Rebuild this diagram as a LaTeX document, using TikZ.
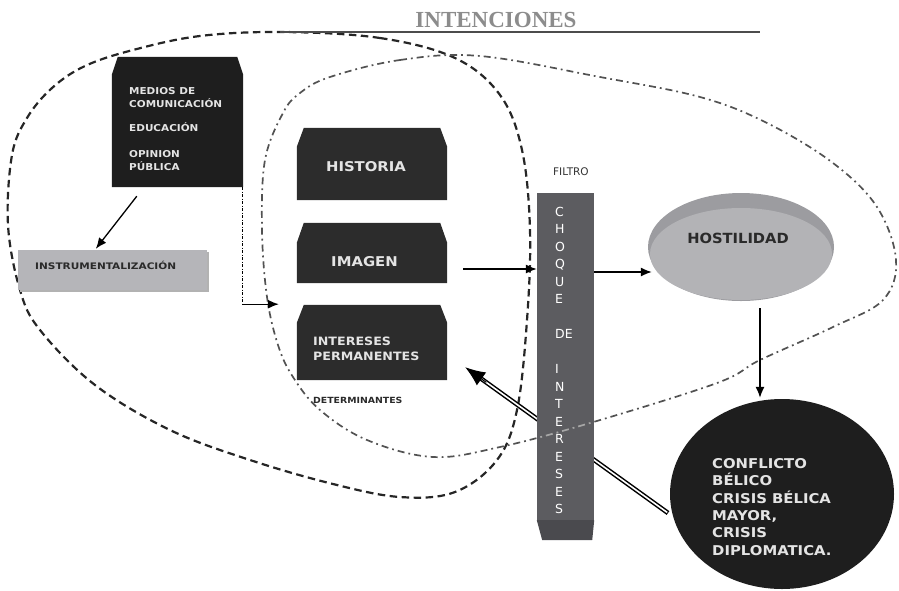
\documentclass[tikz,border=0pt]{standalone}
\usepackage{fontspec}
\setmainfont{DejaVu Sans}
\newfontfamily\bxa[FakeStretch=1.1]{DejaVu Sans}
\newfontfamily\bxb[FakeStretch=1.17]{DejaVu Sans}
\newfontfamily\bxc[FakeStretch=1.05]{DejaVu Sans}
\newfontfamily\ttlf{Liberation Serif}
\usetikzlibrary{arrows.meta,calc,shapes.geometric,shadows}
\definecolor{boxdark}{HTML}{2C2C2C}
\definecolor{mediosc}{HTML}{1E1E1E}
\definecolor{instrc}{HTML}{B5B5B9}
\definecolor{colgray}{HTML}{5C5C60}
\definecolor{colgrayd}{HTML}{4A4A4E}
\definecolor{hostout}{HTML}{9C9CA0}
\definecolor{hostin}{HTML}{B3B3B6}
\definecolor{txtlight}{HTML}{E4E4E4}
\definecolor{txtdark}{HTML}{2A2A2A}
\definecolor{ttlc}{HTML}{8C8C8C}
\newcommand\chamfill[4]{\fill[#2] ([xshift=#3]#1.north west) -- ([xshift=-#3]#1.north east) -- ([yshift=-#4]#1.north east) -- (#1.south east) -- (#1.south west) -- ([yshift=-#4]#1.north west) -- cycle;}
\begin{document}
\begin{tikzpicture}[x=1pt,y=-1pt,
  arr/.style={line width=1.3pt, -{Latex[length=11pt,width=9pt]}},
  dashloop/.style={line width=2.2pt, color=black!85, dash pattern=on 7.5pt off 4.5pt},
  dotloop/.style={line width=1.7pt, color=black!68, dash pattern=on 7pt off 4pt on 1.8pt off 4pt},
  dotline/.style={line width=1.3pt, dash pattern=on 3pt off 1.5pt on 1pt off 1.5pt},
  boxn/.style={rectangle, inner sep=0pt},
  lighttxt/.style={inner sep=0pt, text=txtlight},
  darktxt/.style={inner sep=0pt, text=txtdark}
]
\useasboundingbox (0,0) rectangle (899,590);

% loops
\draw[dashloop] plot[smooth cycle, tension=0.6] coordinates {(283,32) (380,38) (455,58) (500,95) (522,150) (530,230) (527,320) (517,410) (497,460) (455,492) (400,497) (333,484) (250,460) (170,430) (95,385) (40,330) (20,290) (8,225) (12,155) (27,118) (52,88) (85,66) (133,50) (200,36)};
\draw[dotloop] plot[smooth cycle, tension=0.6] coordinates {(330,77) (400,60) (480,56) (600,77) (700,97) (767,123) (833,163) (877,207) (896,260) (883,300) (833,327) (760,360) (717,383) (590,423) (500,447) (433,457) (367,440) (320,410) (293,377) (278,345) (267,297) (262,230) (265,160) (283,113) (300,93)};

% title
\node[font=\ttlf\bfseries\fontsize{23}{23}\selectfont, text=ttlc, anchor=base, inner sep=0pt] (title) at (496,27) {INTENCIONES};
\draw[line width=1.5pt, black!70] (280,32) -- (760,32);

% boxes
\node[boxn, minimum width=131pt, minimum height=130pt] (medios) at (177.5,122) {};
\chamfill{medios}{mediosc}{6pt}{18pt}
\node[lighttxt, anchor=north west, align=left, font=\bxa\bfseries\fontsize{9.5}{13}\selectfont] (mediostxt) at (129,87) {MEDIOS DE\\COMUNICACIÓN\\[11pt]EDUCACIÓN\\[13pt]OPINION\\PÚBLICA};

\node[boxn, minimum width=189pt, minimum height=40pt, fill=instrc, drop shadow={shadow xshift=1.5pt, shadow yshift=-1.5pt, fill=black!30, opacity=1}] (instr) at (112.5,270) {};
\node[darktxt, anchor=base west, font=\bxb\bfseries\fontsize{9}{11}\selectfont] (instrtxt) at (35,269) {INSTRUMENTALIZACIÓN};

\node[boxn, minimum width=150pt, minimum height=72pt] (hist) at (372,164) {};
\chamfill{hist}{boxdark}{7pt}{19pt}
\node[lighttxt, anchor=base, font=\bxa\bfseries\fontsize{13.5}{15}\selectfont] (histtxt) at (366,171) {HISTORIA};

\node[boxn, minimum width=150pt, minimum height=60pt] (imagen) at (372,253) {};
\chamfill{imagen}{boxdark}{7pt}{20pt}
\node[lighttxt, anchor=base, font=\bxa\bfseries\fontsize{13.5}{15}\selectfont] (imagentxt) at (364.5,266) {IMAGEN};

\node[boxn, minimum width=150pt, minimum height=75pt] (inter) at (372,342.5) {};
\chamfill{inter}{boxdark}{7pt}{18pt}
\node[lighttxt, anchor=north west, align=left, font=\bxa\bfseries\fontsize{11.5}{15}\selectfont] (intertxt) at (313,337) {INTERESES\\PERMANENTES};

\node[darktxt, anchor=base west, font=\bxa\bfseries\fontsize{8.5}{10}\selectfont] (determ) at (313,403) {DETERMINANTES};

% double arrow (under the column)
\coordinate (d1) at (668,513);
\coordinate (d2) at ($(inter.south east)+(18,-13)$);
\draw[line width=4.6pt, shorten >=16pt] (d1) -- (d2);
\draw[white, line width=1.6pt, shorten >=17pt, shorten <=1pt] (d1) -- (d2);
\draw[line width=1pt, -{Latex[length=20pt,width=16pt]}] ($(d2)!26pt!(d1)$) -- (d2);

% column
\node[darktxt, anchor=base west, font=\fontsize{10.5}{12}\selectfont, text=black!80] (filtro) at (553,175) {FILTRO};
\node[boxn, minimum width=57pt, minimum height=327pt, fill=colgray] (choque) at (565.5,356.5) {};
\fill[colgrayd] (choque.south west) -- (choque.south east) -- ++(-2,20) -- ++(-50,0) -- cycle;
\begin{scope}
\clip (choque.north west) rectangle (choque.south east);
\draw[dotloop, color=black!35] plot[smooth cycle, tension=0.6] coordinates {(330,77) (400,60) (480,56) (600,77) (700,97) (767,123) (833,163) (877,207) (896,260) (883,300) (833,327) (760,360) (717,383) (590,423) (500,447) (433,457) (367,440) (320,410) (293,377) (278,345) (267,297) (262,230) (265,160) (283,113) (300,93)};
\end{scope}
\node[lighttxt, anchor=north west, align=left, font=\fontsize{12.5}{17.5}\selectfont, text=white] (choquetxt) at (555,207) {C\\H\\O\\Q\\U\\E\\[17.5pt]DE\\[17.5pt]I\\N\\T\\E\\R\\E\\S\\E\\S};

% hostilidad
\node[ellipse, inner sep=0pt, minimum width=186pt, minimum height=108pt, fill=hostout] (host) at (741,247) {};
\fill[hostin] ($(host.center)+(0,7)$) ellipse [x radius=91pt, y radius=46pt];
\node[darktxt, anchor=base, font=\bxc\bfseries\fontsize{14}{16}\selectfont] (hosttxt) at (738,243) {HOSTILIDAD};

% conflicto
\node[ellipse, inner sep=0pt, minimum width=224pt, minimum height=190pt, fill=mediosc] (confl) at (782,494) {};
\node[lighttxt, anchor=north west, align=left, font=\bxa\bfseries\fontsize{13.5}{17.4}\selectfont] (confltxt) at (712,458) {CONFLICTO\\BÉLICO\\CRISIS BÉLICA\\MAYOR,\\CRISIS\\DIPLOMATICA.};

% connectors
\draw[arr] ($(medios.south west)+(25,9)$) -- ($(instr.north west)+(78,-1)$);
\coordinate (bend) at ($(medios.south east)+(-1,117)$);
\draw[dotline] ([xshift=-1pt]medios.south east) -- (bend);
\draw[arr] (bend) -- ($(bend -| inter.west)+(-18,0)$);
\coordinate (a1) at ($(imagen.east)+(16,16)$);
\draw[arr] (a1) -- (a1 -| choque.west);
\coordinate (a2) at ($(choque.east)+(0,-84.5)$);
\draw[arr] (a2) -- ($(a2 -| host.west)+(4,0)$);
\coordinate (h1) at (760,308);
\draw[arr] (h1) -- ($(h1 |- confl.north)+(0,-1)$);
\end{tikzpicture}
\end{document}
